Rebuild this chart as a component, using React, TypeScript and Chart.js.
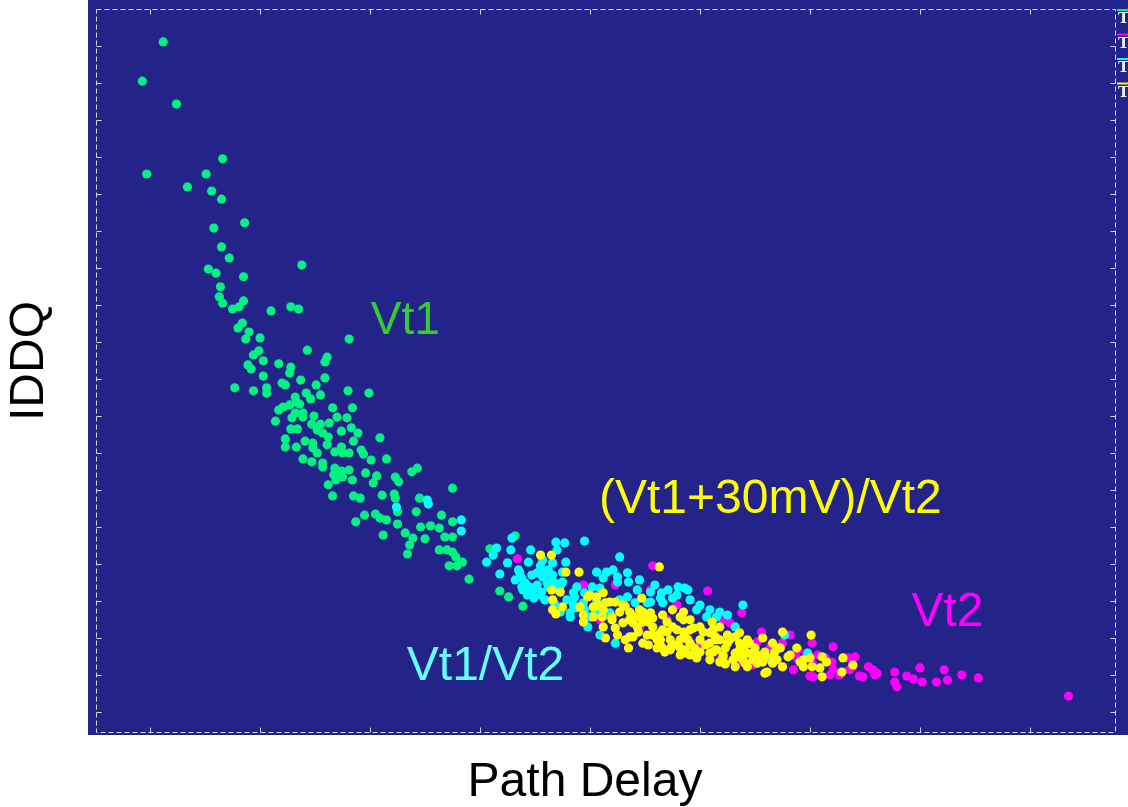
import React, { useEffect, useRef } from "react";
import { Chart, registerables } from "chart.js";

Chart.register(...registerables);

// Axis units: Path Delay (arbitrary units), IDDQ (arbitrary units)
const X_MIN = 4.36;
const X_MAX = 98.91;
const Y_MIN = 3.78;
const Y_MAX = 202.43;
const FRAME_X: [number, number] = [5.1, 97.7];
const FRAME_Y: [number, number] = [4.6, 200];
const xTicks = [10, 20, 30, 40, 50, 60, 70, 80, 90];
const yTicks = [10, 20, 30, 40, 50, 60, 70, 80, 90, 100, 110, 120, 130, 140, 150, 160, 170, 180, 190];

const xTitle = "Path Delay";
const yTitle = "IDDQ";
const seriesNames = ["Vt1", "Vt2", "Vt1/Vt2", "(Vt1+30mV)/Vt2"];

const vt1Points: [number, number][] = [
  [11.2, 191.1], [9.3, 180.5], [12.4, 174.3], [16.6, 159.5], [9.7, 155.4], [15.1, 155.4], [13.4, 151.9], [15.6, 150.8], [16.5, 148.6], [18.6, 142.2],
  [15.8, 140.8], [16.5, 135.7], [17.2, 132.7], [15.3, 129.7], [16.0, 128.6], [18.5, 127.6], [23.8, 130.8], [16.4, 124.9], [16.3, 122.2], [16.6, 120.5],
  [18.5, 121.1], [17.5, 118.9], [18.1, 119.5], [21.0, 118.4], [22.8, 119.5], [23.5, 118.9], [18.4, 115.1], [18.0, 113.8], [19.0, 112.7], [18.7, 110.8],
  [20.0, 111.1], [19.9, 107.6], [19.4, 106.5], [24.3, 107.8], [28.1, 110.8], [20.3, 104.9], [26.1, 105.9], [25.9, 104.6], [18.9, 103.8], [19.2, 102.7],
  [21.7, 104.1], [22.8, 103.2], [22.7, 101.6], [20.3, 100.8], [23.7, 99.7], [25.9, 100.3], [22.0, 98.9], [22.3, 98.4], [25.1, 98.4], [17.7, 97.6],
  [19.4, 96.8], [20.6, 97.6], [20.6, 96.2], [24.2, 96.2], [25.5, 95.7], [24.6, 94.6], [23.2, 95.1], [23.3, 93.8], [28.0, 96.8], [29.9, 96.2],
  [22.1, 92.4], [21.7, 91.6], [22.7, 93.0], [23.6, 93.2], [23.2, 90.8], [23.9, 90.8], [26.6, 92.2], [28.4, 92.2], [21.4, 88.6], [22.9, 89.5],
  [23.9, 89.7], [24.9, 90.0], [26.3, 88.1], [27.0, 89.7], [27.9, 89.5], [24.7, 87.8], [25.5, 87.8], [22.8, 86.5], [23.4, 86.5], [25.2, 86.2],
  [25.7, 85.4], [27.4, 85.9], [28.3, 86.8], [28.9, 85.4], [26.2, 84.3], [30.9, 84.1], [22.3, 83.8], [24.1, 83.2], [24.8, 82.7], [28.5, 83.2],
  [22.3, 81.6], [23.3, 81.6], [24.8, 81.4], [26.1, 82.2], [27.4, 81.6], [25.2, 80.0], [26.8, 80.3], [27.5, 80.0], [28.1, 80.0], [29.2, 80.8],
  [23.9, 78.4], [24.7, 77.6], [25.7, 77.3], [29.4, 79.7], [30.1, 78.1], [31.5, 78.4], [25.7, 76.2], [26.8, 75.9], [27.4, 75.1], [28.1, 75.4],
  [26.7, 74.1], [27.5, 73.5], [28.4, 72.7], [29.6, 74.6], [30.6, 73.8], [32.3, 73.5], [33.8, 74.9], [34.3, 75.9], [26.9, 72.7], [26.2, 71.4],
  [30.3, 71.9], [32.6, 72.2], [37.5, 70.5], [26.6, 68.4], [28.5, 68.4], [29.1, 67.8], [31.1, 68.6], [32.2, 68.9], [32.3, 67.8], [34.5, 67.8],
  [34.2, 64.1], [32.5, 64.1], [29.5, 63.2], [30.5, 63.5], [30.9, 62.4], [31.5, 61.9], [28.7, 61.4], [36.5, 63.2], [37.5, 61.4], [32.5, 60.8],
  [34.6, 60.0], [35.5, 60.3], [36.3, 59.7], [31.2, 57.8], [33.2, 58.4], [33.9, 57.0], [35.0, 56.8], [36.8, 57.3], [37.5, 57.3], [33.6, 55.1],
  [36.3, 53.8], [37.0, 53.8], [37.5, 53.2], [33.4, 52.7], [37.8, 51.9], [38.4, 50.5], [37.2, 49.5], [37.9, 49.5], [39.0, 45.9],
  [41.8, 42.7], [42.6, 41.1], [43.9, 38.6], [43.2, 57.6], [40.9, 54.1],
];

const vt1Vt2Points: [number, number][] = [
  [32.4, 65.4], [35.2, 67.3], [35.3, 66.2], [38.3, 61.9], [38.3, 58.9], [40.6, 50.5], [41.2, 52.4], [41.5, 54.3], [42.9, 57.0], [42.8, 53.8],
  [44.6, 53.8], [46.9, 55.9], [47.7, 55.7], [47.0, 53.8], [42.5, 50.3], [44.4, 50.5], [45.7, 51.1], [46.6, 50.3], [47.8, 50.5], [41.8, 47.3],
  [43.8, 46.2], [44.7, 47.0], [45.2, 47.6], [45.7, 46.5], [46.6, 47.0], [47.5, 47.8], [43.8, 43.8], [44.5, 43.8], [45.2, 44.3], [46.1, 44.9],
  [46.8, 44.9], [47.5, 45.1], [44.3, 41.6], [44.9, 40.8], [45.6, 42.4], [48.5, 42.2], [47.9, 40.3], [48.5, 38.9], [47.3, 37.0], [48.2, 36.8],
  [49.5, 56.2], [50.6, 47.8], [51.5, 47.8], [52.1, 48.4], [53.4, 47.6], [52.7, 51.9], [49.5, 42.2], [50.2, 43.8], [50.9, 43.5], [52.5, 45.1],
  [53.5, 45.1], [54.3, 43.0], [49.4, 39.5], [50.6, 40.3], [48.8, 38.1], [48.2, 35.7], [50.0, 35.7], [49.8, 33.0], [50.9, 30.8], [52.3, 28.6],
  [53.4, 41.1], [55.2, 39.5], [56.5, 42.2], [57.1, 43.0], [58.0, 43.8], [58.6, 43.5], [59.7, 37.6], [60.6, 35.7], [61.5, 35.7], [62.5, 36.2],
  [63.2, 33.0], [63.9, 38.9], [67.7, 30.8], [66.4, 24.1], [52.5, 46.5], [51.2, 46.2], [48.8, 43.8], [55.5, 42.4], [57.9, 41.6],
  [58.9, 43.0], [49.3, 38.4], [51.8, 36.8], [55.5, 39.7], [56.6, 39.5], [69.8, 25.9], [46.2, 43.8], [43.9, 43.0], [43.5, 48.4], [45.5, 49.5],
  [46.2, 48.4], [47.1, 43.0], [45.9, 40.3], [46.8, 39.2],
  [44.1, 44.9], [44.8, 43.0], [45.5, 41.6], [46.4, 45.7], [43.6, 47.8], [43.2, 45.7], [45.9, 47.8], [47.3, 44.1], [48.6, 41.1], [49.5, 37.6],
  [50.5, 37.0], [51.4, 36.2], [52.7, 40.3], [54.1, 39.5], [54.5, 45.7], [55.9, 44.3], [56.4, 40.8], [57.5, 40.8], [59.1, 40.3], [60.0, 38.9],
  [60.9, 37.6], [61.8, 37.0],
];

const vt2Points: [number, number][] = [
  [43.4, 51.4], [55.7, 49.5], [60.7, 42.7], [63.8, 36.8], [49.4, 44.3], [52.3, 44.3], [55.5, 43.0], [65.6, 31.6], [68.2, 30.8], [66.4, 27.6],
  [67.5, 22.2], [57.0, 34.9], [58.8, 30.3], [62.5, 29.5], [63.9, 26.8], [57.9, 38.9], [62.1, 34.9], [62.7, 34.1], [64.5, 28.6], [48.5, 38.4],
  [72.1, 27.6], [70.2, 28.6], [69.7, 25.9], [68.9, 26.8], [65.2, 28.9], [66.5, 28.1], [67.5, 28.6], [70.7, 25.4], [71.4, 24.6], [73.5, 24.6],
  [74.1, 24.9], [73.9, 22.2], [75.3, 22.2], [75.7, 21.4], [76.1, 20.5], [74.8, 19.5], [72.1, 21.4], [71.8, 20.0], [70.3, 19.5], [77.7, 20.8],
  [77.7, 18.1], [77.9, 16.8], [64.8, 22.7], [68.5, 21.4], [78.8, 19.7], [79.4, 18.9], [80.0, 21.9], [80.2, 18.1], [81.5, 18.1], [82.2, 21.4],
  [82.5, 18.6], [83.8, 20.0], [85.3, 19.2], [93.5, 14.3], [75.9, 20.0], [74.5, 19.7], [68.8, 24.6], [70.2, 23.2], [70.0, 19.7], [72.7, 20.0],
  [73.6, 21.4], [72.0, 23.5], [50.9, 34.9], [54.5, 32.7], [56.4, 29.5], [60.0, 28.1], [61.4, 26.8], [65.5, 25.4], [63.6, 23.5], [61.8, 24.1],
];

const vt1p30Points: [number, number][] = [
  [45.5, 52.4], [46.5, 52.4], [56.3, 49.2], [47.8, 47.8], [49.0, 47.8], [46.5, 43.0], [47.3, 42.4], [46.6, 40.3], [47.5, 38.4], [46.6, 37.6],
  [46.9, 36.5], [50.0, 41.6], [51.4, 39.5], [52.3, 39.7], [51.2, 37.6], [52.0, 35.7], [49.1, 38.4], [49.4, 36.2], [50.3, 35.7], [51.2, 33.0],
  [53.2, 38.6], [54.7, 40.8], [53.8, 36.2], [54.5, 35.7], [55.2, 36.2], [55.7, 35.4], [56.6, 36.2], [57.5, 37.6], [58.5, 37.0], [54.3, 33.0],
  [55.7, 33.0], [57.0, 31.6], [57.9, 32.2], [59.1, 32.2], [60.0, 33.0], [60.9, 31.4], [61.8, 33.0], [62.5, 30.8], [63.6, 31.4], [64.5, 28.6],
  [65.7, 30.0], [66.6, 28.6], [67.5, 31.6], [51.4, 30.0], [52.5, 30.8], [53.6, 30.3], [54.8, 28.6], [55.7, 30.8], [56.5, 27.6], [57.3, 29.5],
  [58.2, 27.3], [59.1, 28.1], [60.0, 26.2], [61.2, 26.2], [62.1, 24.9], [63.0, 24.1], [63.9, 25.4], [64.8, 24.1], [65.9, 20.5], [66.6, 23.2],
  [53.5, 27.3], [49.8, 41.1], [50.3, 38.4], [51.2, 42.2], [51.1, 35.7], [52.0, 34.9], [52.7, 37.0], [53.6, 34.9], [54.8, 37.0], [55.3, 34.3],
  [56.4, 29.5], [57.0, 34.3], [58.5, 34.9], [58.9, 29.5], [60.0, 29.5], [61.1, 34.3], [61.5, 29.5], [61.5, 26.8], [62.5, 28.6],
  [63.2, 30.3], [63.6, 26.8], [64.3, 29.5], [64.8, 25.9], [57.3, 26.8], [58.8, 25.9], [59.7, 24.9], [64.3, 22.2], [65.2, 23.2], [49.4, 34.3],
  [70.1, 30.8], [67.3, 27.3], [65.2, 25.4], [65.9, 24.9], [64.1, 23.2], [67.0, 24.1], [68.0, 24.9], [67.5, 22.2], [69.4, 24.1], [70.0, 24.6],
  [69.4, 22.2], [70.2, 22.2], [71.1, 24.9], [71.5, 23.5], [70.9, 21.9], [71.1, 19.5], [73.0, 24.6], [73.9, 22.7], [72.9, 20.8],
  [50.6, 41.1], [50.7, 38.9], [51.8, 39.7], [53.0, 38.9], [53.6, 37.0], [54.5, 37.6], [55.5, 36.8], [58.2, 35.7], [59.1, 34.9], [53.0, 34.1],
  [53.9, 34.1], [54.8, 34.3], [56.6, 32.2], [57.5, 33.0], [58.5, 31.6], [59.4, 32.7], [60.3, 31.6], [61.2, 32.2], [53.9, 30.3], [55.2, 30.8],
  [56.1, 29.5], [58.2, 29.5], [59.1, 28.6], [60.9, 28.6], [61.8, 29.5], [62.7, 29.5], [63.6, 28.6], [56.1, 27.3], [57.3, 27.3], [58.5, 26.8],
  [59.7, 25.9], [60.9, 25.9], [62.1, 25.4], [63.4, 24.9], [64.3, 25.9], [59.7, 24.6], [61.8, 23.5], [63.9, 24.1], [65.7, 23.5], [66.6, 24.9],
  [67.1, 27.3], [66.1, 20.8],
  [52.3, 32.7], [53.2, 29.5], [54.4, 31.6], [55.3, 28.1], [56.4, 31.4], [57.7, 28.1], [58.6, 30.5], [59.5, 27.3], [60.5, 28.1], [61.4, 30.3],
  [62.3, 27.3], [63.2, 25.9], [64.1, 28.1], [65.0, 27.3], [65.9, 26.2], [66.8, 26.2], [68.2, 25.4], [68.8, 27.3], [69.1, 23.5], [63.2, 22.2],
  [62.3, 23.0], [60.9, 24.1], [59.1, 25.4], [58.2, 25.4], [56.8, 26.2],
];

const seriesColors = ["#00F282", "#FF00FF", "#00FFFF", "#FFFF00"];
const drawOrder = [3, 2, 1, 0];

const annotations = [
  { text: "Vt1", x: 33.2, y: 115.7, color: "#33CC33", size: 46 },
  { text: "(Vt1+30mV)/Vt2", x: 66.4, y: 67.3, color: "#FFFF00", size: 48 },
  { text: "Vt1/Vt2", x: 40.5, y: 22.2, color: "#66FFFF", size: 48 },
  { text: "Vt2", x: 82.5, y: 36.8, color: "#FF00FF", size: 48 },
];

const BG = "#23238A";
const FRAME_COLOR = "#D8D8E4";
const FONT = "'Liberation Sans', Arial, sans-serif";

const framePlugin = {
  id: "frame",
  beforeDraw(chart: any) {
    const { ctx, chartArea: a } = chart;
    ctx.save();
    ctx.fillStyle = BG;
    ctx.fillRect(a.left, a.top, a.right - a.left, a.bottom - a.top);
    // axis titles
    ctx.fillStyle = "#000";
    ctx.font = `48px ${FONT}`;
    ctx.textAlign = "center";
    ctx.textBaseline = "middle";
    ctx.fillText(xTitle, 585, a.bottom + 48);
    ctx.translate(30, 361);
    ctx.rotate(-Math.PI / 2);
    ctx.fillText(yTitle, 0, 0);
    ctx.restore();
  },
  beforeDatasetsDraw(chart: any) {
    const { ctx, scales } = chart;
    const xs = scales.x;
    const ys = scales.y;
    const l = Math.round(xs.getPixelForValue(FRAME_X[0])) + 0.5;
    const r = Math.round(xs.getPixelForValue(FRAME_X[1])) + 0.5;
    const t = Math.round(ys.getPixelForValue(FRAME_Y[1])) + 0.5;
    const b = Math.round(ys.getPixelForValue(FRAME_Y[0])) + 0.5;
    ctx.save();
    ctx.strokeStyle = FRAME_COLOR;
    ctx.lineWidth = 1;
    ctx.setLineDash([5, 3]);
    ctx.strokeRect(l, t, r - l, b - t);
    ctx.setLineDash([]);
    ctx.beginPath();
    const len = 5;
    for (const v of xTicks) {
      const p = Math.round(xs.getPixelForValue(v)) + 0.5;
      ctx.moveTo(p, b);
      ctx.lineTo(p, b - len);
      ctx.moveTo(p, t);
      ctx.lineTo(p, t + len);
    }
    for (const v of yTicks) {
      const p = Math.round(ys.getPixelForValue(v)) + 0.5;
      ctx.moveTo(l, p);
      ctx.lineTo(l + len, p);
      ctx.moveTo(r, p);
      ctx.lineTo(r - len, p);
    }
    ctx.stroke();
    ctx.restore();
  },
  afterDatasetsDraw(chart: any) {
    const { ctx, scales, chartArea: a } = chart;
    ctx.save();
    ctx.textAlign = "center";
    ctx.textBaseline = "middle";
    for (const an of annotations) {
      ctx.font = `${an.size}px ${FONT}`;
      ctx.fillStyle = an.color;
      ctx.fillText(an.text, scales.x.getPixelForValue(an.x), scales.y.getPixelForValue(an.y));
    }
    // clipped legend fragment at the right edge
    const lx = a.right - 11;
    seriesNames.forEach((name, i) => {
      const y0 = a.top + 10 + i * 24.5;
      ctx.fillStyle = seriesColors[i];
      ctx.fillRect(lx, y0 - 1, 12, 2);
      ctx.fillStyle = "#EEEEF4";
      ctx.font = "bold 15px 'DejaVu Serif', serif";
      ctx.textAlign = "left";
      ctx.textBaseline = "top";
      ctx.fillText(name.charAt(0) === "(" ? "T" : "T", lx + 1, y0 + 2);
    });
    ctx.restore();
  },
};

export default function App() {
  const ref = useRef<HTMLCanvasElement | null>(null);
  useEffect(() => {
    if (!ref.current) return;
    const sets = [vt1Points, vt2Points, vt1Vt2Points, vt1p30Points];
    const chart = new Chart(ref.current, {
      type: "scatter",
      data: {
        datasets: sets.map((pts, i) => ({
          label: seriesNames[i],
          data: pts.map(([x, y]) => ({ x, y })),
          backgroundColor: seriesColors[i],
          borderColor: seriesColors[i],
          borderWidth: 0,
          pointRadius: 4.6,
          order: drawOrder[i],
        })),
      },
      options: {
        animation: false,
        responsive: false,
        events: [],
        layout: { padding: { left: 88, top: 0, right: 0, bottom: 72 }, autoPadding: false },
        plugins: {
          legend: { display: false },
          tooltip: { enabled: false },
        },
        scales: {
          x: { type: "linear", display: false, min: X_MIN, max: X_MAX },
          y: { type: "linear", display: false, min: Y_MIN, max: Y_MAX },
        },
      },
      plugins: [framePlugin],
    });
    return () => chart.destroy();
  }, []);
  return (
    <div style={{ position: "fixed", left: 0, top: 0, width: 1128, height: 807, background: "#fff" }}>
      <canvas ref={ref} width={1128} height={807} />
    </div>
  );
}
